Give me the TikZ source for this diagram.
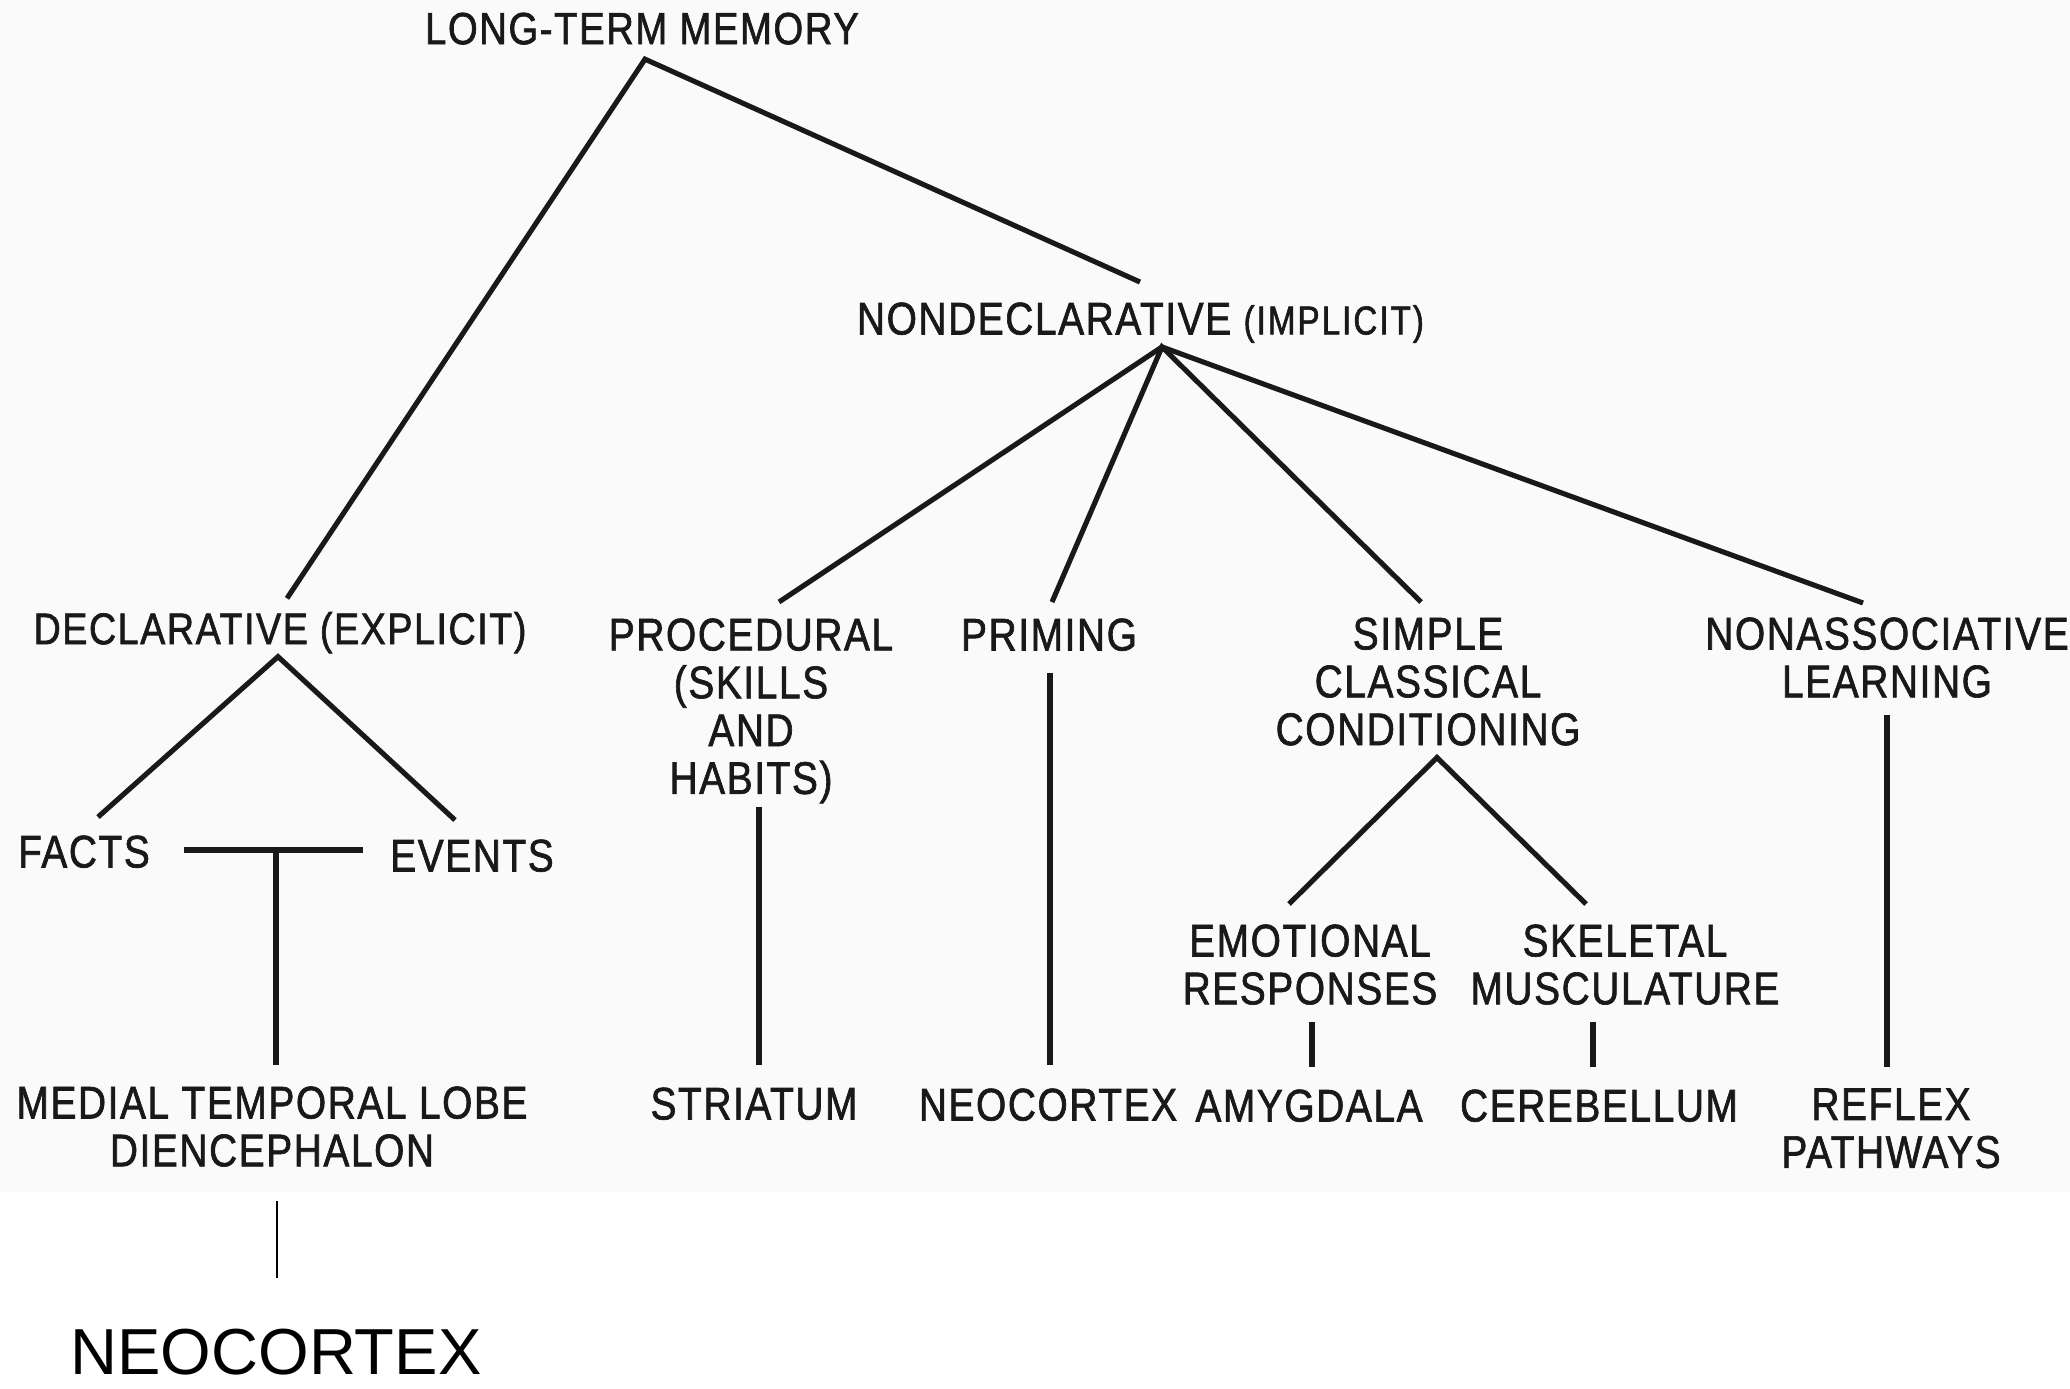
\documentclass[tikz,border=0pt]{standalone}
\usepackage{fontspec}
\setmainfont{Liberation Sans}
% Narrow, slightly tracked grotesque for the printed labels
\newfontfamily\scanfont{Liberation Sans}[FakeStretch=0.85,LetterSpace=3.5,FakeBold=1.4]
\newfontfamily\smallscan{Liberation Sans}[FakeStretch=0.82,LetterSpace=5,FakeBold=1.4]
\usetikzlibrary{calc}

\begin{document}
\begin{tikzpicture}[x=0.01cm,y=-0.01cm,
  every node/.style={inner sep=0pt, outer sep=0pt, text=black!90},
  lbl/.style={font=\scanfont\fontsize{13pt}{13.6pt}\selectfont,
              text height=0.329cm, text depth=0pt},
  mlbl/.style={font=\scanfont\fontsize{13pt}{13.6pt}\selectfont,
               align=center, anchor=north},
  conn/.style={line width=1.45pt, draw=black!90},
  thin/.style={line width=0.7pt, draw=black}]

  % paper and picture frame
  \useasboundingbox (0,0) rectangle (2070,1388);
  \fill[black!2] (0,0) rectangle (2070,1192);

  % labels
  \node[lbl, font=\scanfont\fontsize{12.8pt}{13pt}\selectfont, text height=0.323cm]
       (ltm) at (642,28) {LONG-TERM MEMORY};
  \node[lbl, anchor=west] (nondecl) at (857,318)
       {NONDECLARATIVE {\smallscan\fontsize{11.5pt}{12pt}\selectfont (IMPLICIT)}};
  \node[lbl, font=\scanfont\fontsize{12.6pt}{13.6pt}\selectfont, text height=0.323cm]
       (decl) at (280,628) {DECLARATIVE (EXPLICIT)};
  \node[lbl] (facts) at (84,851) {FACTS};
  \node[lbl] (events) at (472,855) {EVENTS};
  \node[mlbl] (mtl) at (272,1086.5) {MEDIAL TEMPORAL LOBE\\DIENCEPHALON};
  \node[mlbl] (proc) at (751,618.5) {PROCEDURAL\\(SKILLS\\AND\\HABITS)};
  \node[lbl] (prim) at (1049,634) {PRIMING};
  \node[mlbl] (simple) at (1428,617.5) {SIMPLE\\CLASSICAL\\CONDITIONING};
  \node[mlbl] (nonassoc) at (1887,617.5) {NONASSOCIATIVE\\LEARNING};
  \node[mlbl] (emo) at (1310,924.5) {EMOTIONAL\\RESPONSES};
  \node[mlbl] (skel) at (1625,924.5) {SKELETAL\\MUSCULATURE};
  \node[lbl] (stri) at (754,1103) {STRIATUM};
  \node[lbl] (neo) at (1048,1104) {NEOCORTEX};
  \node[lbl] (amy) at (1309,1105) {AMYGDALA};
  \node[lbl] (cere) at (1599,1105) {CEREBELLUM};
  \node[mlbl] (reflex) at (1891,1088.5) {REFLEX\\PATHWAYS};
  \node[font=\fontsize{18.5pt}{22pt}\selectfont, text=black,
        text height=0.466cm, text depth=0pt] (neobig) at (276,1351) {NEOCORTEX};

  % branching points
  \coordinate (ltmapex) at ($(ltm.south)+(3,15)$);
  \coordinate (ndapex) at ($(nondecl.south west)+(305,12.5)$);
  \coordinate (dapex) at ($(decl.south)+(-2,12.5)$);
  \coordinate (capex) at ($(simple.south)+(9,12)$);
  \coordinate (tj) at (276,850);

  % long-term memory
  \draw[conn] ($(decl.north)+(7,-13.5)$) -- (ltmapex)
              -- ($(nondecl.north west)+(283,-19.5)$);

  % nondeclarative fan
  \draw[conn] ($(proc.north)+(28,-16.5)$) -- (ndapex)
              -- ($(nonassoc.north)+(-24,-14.5)$);
  \draw[conn] ($(prim.north)+(3,-15.5)$) -- (ndapex)
              -- ($(simple.north)+(-7,-15.5)$);

  % declarative branch
  \draw[conn] ($(facts.north)+(14,-17.5)$) -- (dapex)
              -- ($(events.north)+(-17,-18.5)$);
  \draw[conn] ($(tj)+(-92,0)$) -- ($(tj)+(87,0)$);
  \draw[conn] (tj) -- ($(tj |- mtl.north)+(0,-21.5)$);

  % procedural and priming
  \draw[conn] ($(proc.south)+(8,4)$) -- ($(stri.north)+(5,-21.5)$);
  \draw[conn] ($(prim.south)+(1,22.5)$) -- ($(neo.north)+(2,-22.5)$);

  % classical conditioning
  \draw[conn] ($(emo.north)+(-21,-20.5)$) -- (capex)
              -- ($(skel.north)+(-39,-20.5)$);
  \draw[conn] ($(emo.south)+(2,17.5)$) -- ($(amy.north)+(3,-21.5)$);
  \draw[conn] ($(skel.south)+(-32,17.5)$) -- ($(cere.north)+(-6,-21.5)$);

  % nonassociative learning
  \draw[conn] ($(nonassoc.south)+(0,17.5)$) -- ($(reflex.north)+(-4,-21.5)$);

  % added neocortex link
  \draw[thin] ($(mtl.south)+(5,34.5)$) -- ($(neobig.north)+(1,-50)$);
\end{tikzpicture}
\end{document}
